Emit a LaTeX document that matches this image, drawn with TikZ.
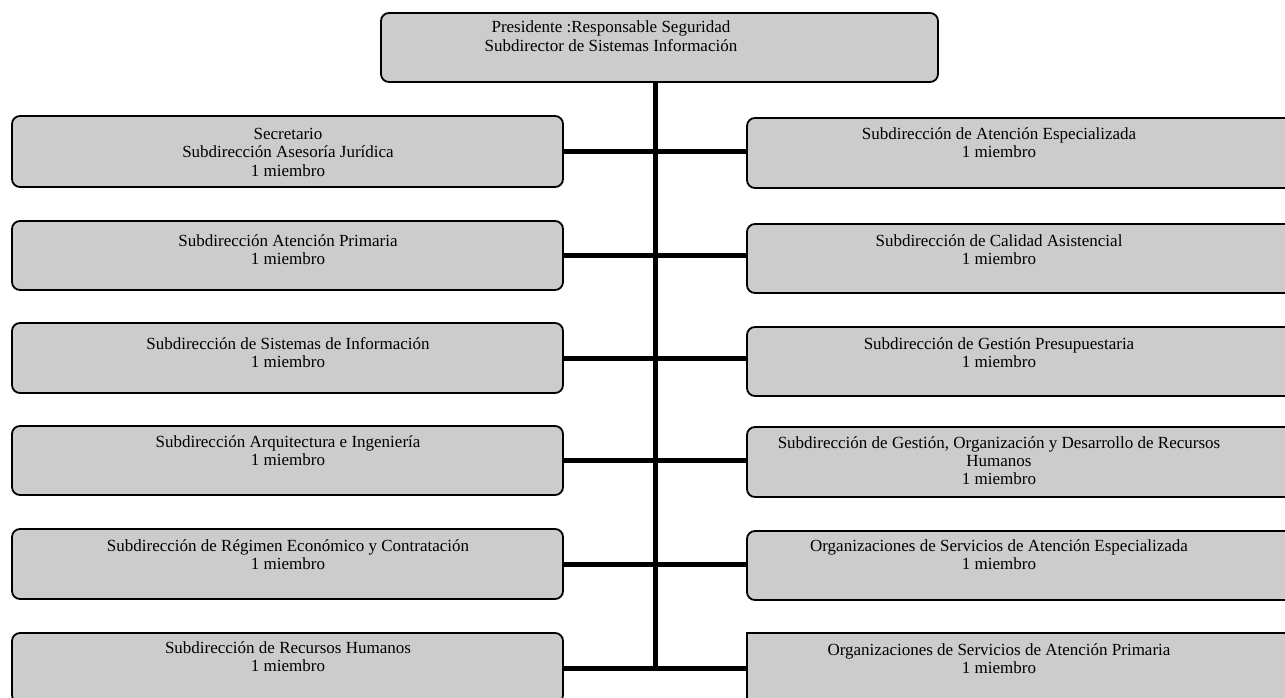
\documentclass[tikz,border=0pt]{standalone}
\usepackage{fontspec}
\setmainfont{Liberation Serif}
\begin{document}
\begin{tikzpicture}[x=1pt,y=-1pt,
  box/.style={draw=black, line width=1.8pt, fill=gray!40!white, rounded corners=8pt, inner sep=0pt, minimum height=70pt},
  lbox/.style={box, minimum width=551pt},
  rbox/.style={box, minimum width=580pt},
  txt/.style={font=\fontsize{17}{18.3}\selectfont, align=center, anchor=north, inner sep=0pt},
  conn/.style={line width=5pt}]
\useasboundingbox (0,0) rectangle (1285,698);
% top
\node[box, minimum width=557pt, minimum height=69pt] (top) at (659.5,47.5) {};
\node[txt] (topt) at (611,21) {Presidente :Responsable Seguridad\\Subdirector de Sistemas Información};
% left column
\node[lbox, minimum height=71pt] (l1) at (287.5,151.5) {};
\node[lbox, minimum height=69pt] (l2) at (287.5,255.5) {};
\node[lbox] (l3) at (287.5,358) {};
\node[lbox, minimum height=69pt] (l4) at (287.5,460.5) {};
\node[lbox] (l5) at (287.5,564) {};
\node[lbox] (l6) at (287.5,668) {};
% right column
\node[rbox] (r1) at (1037,153) {};
\node[rbox, minimum height=69pt] (r2) at (1037,258.5) {};
\node[rbox, minimum height=69pt] (r3) at (1037,361.5) {};
\node[rbox] (r4) at (1037,462) {};
\node[rbox, minimum height=69pt] (r5) at (1037,565.5) {};
\node[rbox, sharp corners] (r6) at (1037,668) {};
% texts
\node[txt] (l1t) at (288,128) {Secretario\\Subdirección Asesoría Jurídica\\1 miembro};
\node[txt] (l2t) at (288,234) {Subdirección Atención Primaria\\1 miembro};
\node[txt] (l3t) at (288,337) {Subdirección de Sistemas de Información\\1 miembro};
\node[txt] (l4t) at (288,435) {Subdirección Arquitectura e Ingeniería\\1 miembro};
\node[txt] (l5t) at (288,539) {Subdirección de Régimen Económico y Contratación\\1 miembro};
\node[txt] (l6t) at (288,641) {Subdirección de Recursos Humanos\\1 miembro};
\node[txt] (r1t) at (999,127) {Subdirección de Atención Especializada\\1 miembro};
\node[txt] (r2t) at (999,234) {Subdirección de Calidad Asistencial\\1 miembro};
\node[txt] (r3t) at (999,337) {Subdirección de Gestión Presupuestaria\\1 miembro};
\node[txt] (r4t) at (999,436) {Subdirección de Gestión, Organización y Desarrollo de Recursos\\Humanos\\1 miembro};
\node[txt] (r5t) at (999,539) {Organizaciones de Servicios de Atención Especializada\\1 miembro};
\node[txt] (r6t) at (999,643) {Organizaciones de Servicios de Atención Primaria\\1 miembro};
% connectors
\coordinate (trunk) at (655,0);
\coordinate (bot) at (655,668);
\draw[conn] (top.south -| trunk) -- (bot);
\draw[conn] (l1.east) -- (l1.east -| r1.west);
\draw[conn] (l2.east) -- (l2.east -| r2.west);
\draw[conn] (l3.east) -- (l3.east -| r3.west);
\draw[conn] (l4.east) -- (l4.east -| r4.west);
\draw[conn] (l5.east) -- (l5.east -| r5.west);
\draw[conn] (l6.east) -- (l6.east -| r6.west);
\end{tikzpicture}
\end{document}
